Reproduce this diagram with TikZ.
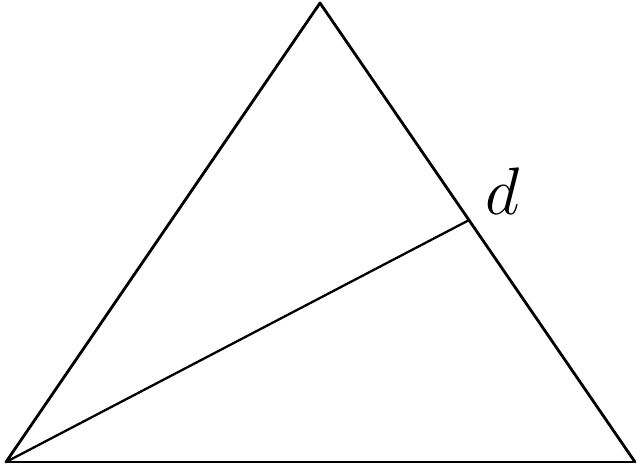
\documentclass[tikz,border=0pt]{standalone}
\usepackage{amsmath}
\usepackage{tikz}
\usetikzlibrary{positioning,calc}
\tikzset{
  side/.style={line width=2.8pt,line join=round,line cap=round},
  cevian/.style={line width=2.3pt,line cap=round},
  pointlabel/.style={inner sep=0pt,font=\Huge,scale=2.7}
}

\begin{document}
\begin{tikzpicture}[x=1pt,y=-1pt]
      \useasboundingbox (0,0) rectangle (643,466);
      \coordinate (apex) at (320,3);
      \coordinate (left) at (6,462);
      \coordinate (right) at (635,462);
      \coordinate (base end) at (633,462);
      \coordinate (d) at ($(apex)!0.473!(right)$);
      \node[pointlabel] (dlabel) at (503,191) {$d$};
      \draw[side] (left) -- (apex) -- (right);
      \draw[side] (left) -- (base end);
      \draw[cevian] (left) -- (d);
    \end{tikzpicture}
\end{document}
